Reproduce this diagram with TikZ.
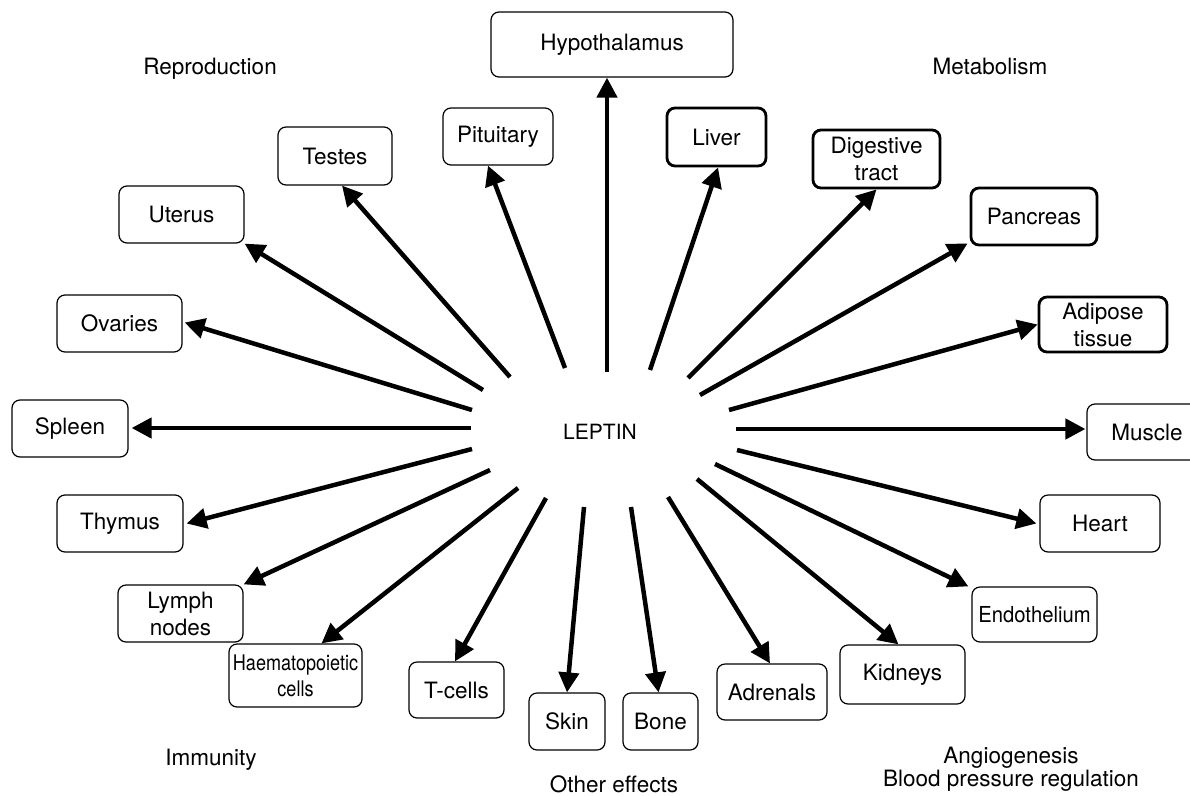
\documentclass[tikz,border=0pt]{standalone}
\usepackage{fontspec}
\setmainfont{TeX Gyre Heros}
\usetikzlibrary{arrows.meta}
\begin{document}
\begin{tikzpicture}[x=1pt,y=-1pt,
  box/.style={draw=black,line width=1.2pt,rounded corners=8pt,inner sep=0pt,align=center,
    font=\fontsize{22.5}{27}\selectfont},
  tbox/.style={box,line width=2.8pt},
  lab/.style={anchor=base,inner sep=0pt,font=\fontsize{22.5}{27}\selectfont},
  arr/.style={line width=4.5pt,-{Triangle[length=20pt,width=20pt]}}]
\useasboundingbox (0,0) rectangle (1190,795);
\clip (0,0) rectangle (1190,795);
% boxes
\node[box,minimum width=242pt,minimum height=65pt] (hyp) at (612,44.5) {Hypothalamus};
\node[box,minimum width=110pt,minimum height=57pt] (pit) at (498,136.5) {Pituitary};
\node[tbox,minimum width=99pt,minimum height=58pt] (liver) at (716.5,137) {Liver};
\node[box,minimum width=114pt,minimum height=58pt] (testes) at (335,156) {Testes};
\node[tbox,minimum width=127pt,minimum height=58pt] (digest) at (876.5,159) {Digestive\\tract};
\node[tbox,minimum width=126pt,minimum height=57pt] (pancreas) at (1034,216.5) {Pancreas};
\node[tbox,minimum width=128pt,minimum height=55pt] (adipose) at (1103,324.5) {Adipose\\tissue};
\node[box,minimum width=125pt,minimum height=57pt] (uterus) at (181.5,214.5) {Uterus};
\node[box,minimum width=125pt,minimum height=57pt] (ovaries) at (119.5,323.5) {Ovaries};
\node[box,minimum width=116pt,minimum height=57pt] (spleen) at (70,428.5) {Spleen};
\node[box,minimum width=120pt,minimum height=56pt] (muscle) at (1147,432) {Muscle};
\node[box,minimum width=126pt,minimum height=57pt] (thymus) at (120,523.5) {Thymus};
\node[box,minimum width=120pt,minimum height=57pt] (heart) at (1100,523.5) {Heart};
\node[box,minimum width=125pt,minimum height=57pt] (lymph) at (180.5,613.5) {Lymph\\nodes};
\node[box,minimum width=125pt,minimum height=55pt,font=\fontsize{22}{26}\selectfont\addfontfeature{FakeStretch=0.92}] (endo) at (1034.5,614.5) {Endothelium};
\node[box,minimum width=133pt,minimum height=63pt,font=\fontsize{21.5}{26}\selectfont\addfontfeature{FakeStretch=0.84}] (haem) at (295.5,675.5) {Haematopoietic\\cells};
\node[box,minimum width=125pt,minimum height=59pt] (kidneys) at (902.5,674.5) {Kidneys};
\node[box,minimum width=95pt,minimum height=56pt] (tcells) at (456.5,690) {T-cells};
\node[box,minimum width=110pt,minimum height=56pt] (adrenals) at (772,692) {Adrenals};
\node[box,minimum width=76pt,minimum height=57pt] (skin) at (567,721.5) {Skin};
\node[box,minimum width=75pt,minimum height=57pt] (bone) at (660.5,721.5) {Bone};
% labels
\node[lab] (leptin) at (600,439) {\fontsize{21}{25}\selectfont LEPTIN};
\node[lab] (repro) at (210,74) {Reproduction};
\node[lab] (metab) at (990,74) {Metabolism};
\node[lab] (immun) at (211,765) {Immunity};
\node[lab] (other) at (614,792) {Other effects};
\node[lab,align=center,font=\fontsize{22.5}{21}\selectfont] (angio) at (1011,786) {Angiogenesis\\Blood pressure regulation};
% arrow start points
\coordinate (shyp) at (607,372);
\coordinate (spit) at (565,368);
\coordinate (sliv) at (650,370);
\coordinate (stes) at (510,377);
\coordinate (sdig) at (688,378);
\coordinate (sute) at (483,390);
\coordinate (span) at (700,395);
\coordinate (sova) at (472,410);
\coordinate (sadi) at (729,410);
\coordinate (sspl) at (471,428);
\coordinate (smus) at (736,429);
\coordinate (sthy) at (472,449);
\coordinate (shea) at (737,450);
\coordinate (slym) at (490,470);
\coordinate (send) at (715,464);
\coordinate (shae) at (518,488);
\coordinate (skid) at (697,479);
\coordinate (stce) at (546,498);
\coordinate (sadr) at (668,497);
\coordinate (sski) at (584,507);
\coordinate (sbon) at (631,507);
% arrows
\draw[arr] (shyp) -- (shyp |- hyp.south);
\draw[arr] (spit) -- ([xshift=-10pt]pit.south);
\draw[arr] (sliv) -- ([xshift=1.5pt]liver.south);
\draw[arr] (stes) -- ([xshift=7pt]testes.south);
\draw[arr] (sdig) -- (digest.south);
\draw[arr] (sute) -- (uterus.south east);
\draw[arr] (span) -- ([xshift=-2pt,yshift=3pt]pancreas.south west);
\draw[arr] (sova) -- ([xshift=2pt,yshift=1pt]ovaries.east);
\draw[arr] (sadi) -- (adipose.west);
\draw[arr] (sspl) -- ([xshift=3pt]sspl -| spleen.east);
\draw[arr] (smus) -- ([xshift=-1pt]smus -| muscle.west);
\draw[arr] (sthy) -- ([xshift=3pt]thymus.east);
\draw[arr] (shea) -- ([xshift=-3pt]heart.west);
\draw[arr] (slym) -- (lymph.north east);
\draw[arr] (send) -- ([xshift=-3pt]endo.north west);
\draw[arr] (shae) -- ([xshift=26pt]haem.north);
\draw[arr] (skid) -- ([xshift=-4pt]kidneys.north);
\draw[arr] (stce) -- ([xshift=-1.5pt]tcells.north);
\draw[arr] (sadr) -- ([xshift=-2pt]adrenals.north);
\draw[arr] (sski) -- (skin.north);
\draw[arr] (sbon) -- ([xshift=-2pt]bone.north);
\end{tikzpicture}
\end{document}
